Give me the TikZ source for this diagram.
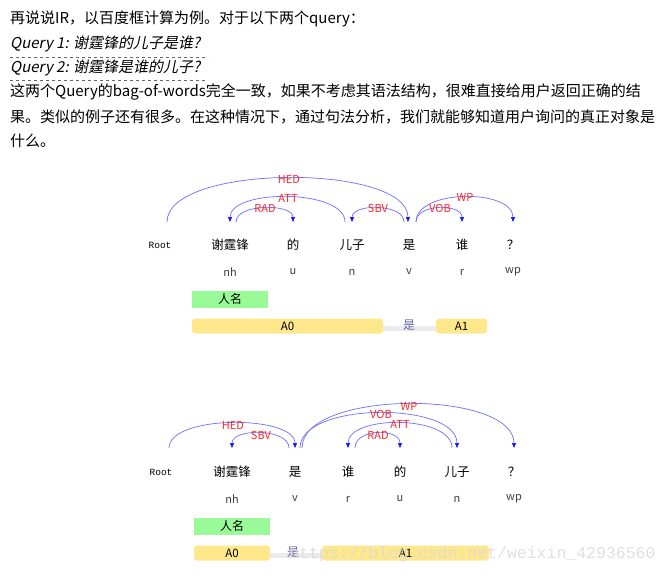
\documentclass[tikz,border=0pt]{standalone}
\usepackage{fontspec}
\setmainfont{Noto Sans CJK SC}
\newfontfamily\cjkit[FakeSlant=0.2]{Noto Sans CJK SC}
\newfontfamily\monof{Liberation Mono}
\usetikzlibrary{arrows.meta}
\definecolor{arcc}{RGB}{110,110,255}
\definecolor{tipc}{RGB}{20,20,240}
\definecolor{lblc}{RGB}{255,40,40}
\definecolor{grn}{RGB}{152,251,152}
\definecolor{yel}{RGB}{255,232,140}
\tikzset{
  body/.style={anchor=west,font=\fontsize{15}{17}\selectfont,inner sep=0},
  word/.style={font=\fontsize{12.5}{14}\selectfont,inner sep=0},
  postag/.style={font=\fontsize{11}{12}\selectfont,text=black!75,inner sep=0},
  rootn/.style={font=\monof\fontsize{9.5}{10}\selectfont,inner sep=0},
  lbl/.style={font=\fontsize{11}{12}\selectfont,text=lblc,inner sep=0},
  arcl/.style={draw=arcc,line width=0.7pt,-{Triangle[length=5pt,width=4pt,color=tipc]}},
  greenbox/.style={fill=grn,minimum height=17pt,font=\fontsize{12}{13}\selectfont,inner sep=0},
  ybar/.style={fill=yel,rounded corners=3pt,minimum height=15pt,font=\fontsize{11.5}{12}\selectfont,inner sep=0},
  gbar/.style={fill=black!8,draw=none}
}
\newcommand{\deparc}[4]{% x1 x2 base peak
  \pgfmathsetmacro{\ctl}{#3-(#3-#4)/0.75}
  \draw[arcl] (#1,#3) .. controls (#1,\ctl) and (#2,\ctl) .. (#2,#3);
}
\begin{document}
\begin{tikzpicture}[x=1pt,y=-1pt]
\useasboundingbox[fill=white] (0,0) rectangle (668,576);
% text
\node[body] (t1) at (10,19) {再说说IR，以百度框计算为例。对于以下两个query：};
\node[body] (t2) at (10,44) {\cjkit Query 1: 谢霆锋的儿子是谁?};
\node[body] (t3) at (10,68) {\cjkit Query 2: 谢霆锋是谁的儿子?};
\node[body] (t4) at (10,92) {这两个Query的bag-of-words完全一致，如果不考虑其语法结构，很难直接给用户返回正确的结};
\node[body] (t5) at (10,117) {果。类似的例子还有很多。在这种情况下，通过句法分析，我们就能够知道用户询问的真正对象是};
\node[body] (t6) at (10,141) {什么。};
\draw[dashed,black!60] (10,57) -- (208,57);
\draw[dashed,black!60] (10,80) -- (208,80);
% diagram 1
\node[rootn] (r1) at (160,245) {Root};
\node[word] (a1) at (230,245) {谢霆锋};
\node[word] (a2) at (293,245) {的};
\node[word] (a3) at (352,245) {儿子};
\node[word] (a4) at (409,245) {是};
\node[word] (a5) at (462,245) {谁};
\node[word] (a6) at (513,245) {？};
\node[postag] (q1) at (230,272) {nh};
\node[postag] (q2) at (293,272) {u};
\node[postag] (q3) at (352,272) {n};
\node[postag] (q4) at (409,272) {v};
\node[postag] (q5) at (462,272) {r};
\node[postag] (q6) at (513,272) {wp};
\deparc{167}{408}{222}{178}
\deparc{345}{230}{222}{197}
\deparc{236}{293}{222}{208}
\deparc{404}{352}{222}{208}
\deparc{416}{462}{222}{208}
\deparc{416}{513}{222}{197}
\node[lbl] at (289,179) {HED};
\node[lbl] at (288,198) {ATT};
\node[lbl] at (265,208) {RAD};
\node[lbl] at (378,208) {SBV};
\node[lbl] at (440,208) {VOB};
\node[lbl] at (465,197) {WP};
\node[greenbox,minimum width=76pt] (p1) at (230,299) {人名};
\fill[gbar] (380,326) rectangle (440,331);
\node[ybar,minimum width=191pt] (b1) at (287.5,326) {A0};
\node[font=\fontsize{12}{13}\selectfont,text=black!55!blue!60,inner sep=0] (v1) at (409,325) {是};
\node[ybar,minimum width=51pt] (c1) at (461.5,326) {A1};
% diagram 2
\node[rootn] (r2) at (161,472) {Root};
\node[word] (d1) at (232,472) {谢霆锋};
\node[word] (d2) at (295,472) {是};
\node[word] (d3) at (348,472) {谁};
\node[word] (d4) at (400,472) {的};
\node[word] (d5) at (457,472) {儿子};
\node[word] (d6) at (514,472) {？};
\node[postag] (e1) at (232,499) {nh};
\node[postag] (e2) at (295,499) {v};
\node[postag] (e3) at (348,499) {r};
\node[postag] (e4) at (400,499) {u};
\node[postag] (e5) at (457,499) {n};
\node[postag] (e6) at (514,499) {wp};
\deparc{169}{295}{448}{423}
\deparc{289}{232}{448}{433}
\deparc{302}{514}{448}{404}
\deparc{300}{457}{448}{413}
\deparc{452}{348}{448}{423}
\deparc{355}{400}{448}{433}
\node[lbl] at (233,425) {HED};
\node[lbl] at (261,435) {SBV};
\node[lbl] at (409,406) {WP};
\node[lbl] at (381,414) {VOB};
\node[lbl] at (400,424) {ATT};
\node[lbl] at (378,435) {RAD};
\node[greenbox,minimum width=76pt] (p2) at (232,526) {人名};
\fill[gbar] (268,553) rectangle (325,558);
\node[ybar,minimum width=76pt] (b2) at (232,553) {A0};
\node[font=\fontsize{12}{13}\selectfont,text=black!55!blue!60,inner sep=0] (v2) at (293,552) {是};
\node[ybar,minimum width=167pt] (c2) at (405.5,553) {A1};
\node[font=\monof\fontsize{16.5}{17}\selectfont,text=black!15,anchor=west,inner sep=0,opacity=0.8] (wm) at (289,554) {https://blog.csdn.net/weixin\_42936560};
\end{tikzpicture}
\end{document}
